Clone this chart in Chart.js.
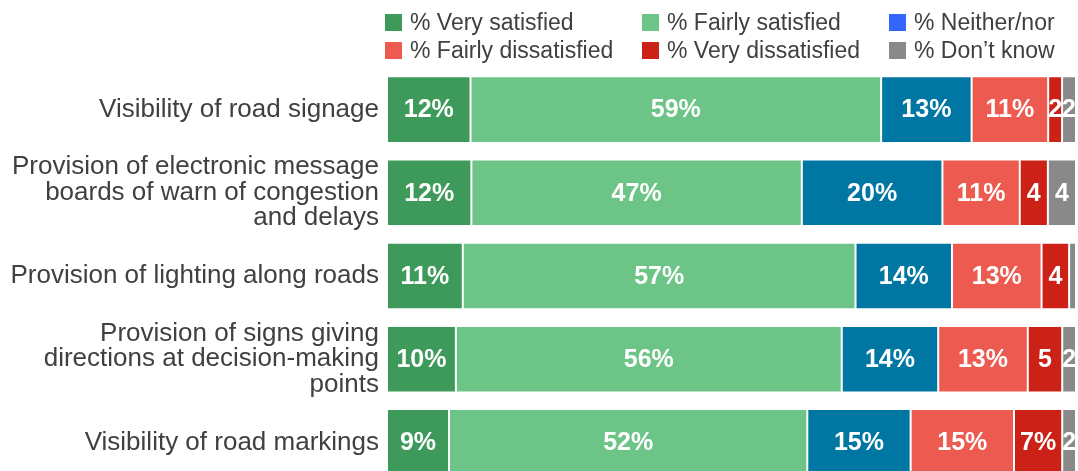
<!DOCTYPE html>
<html lang="en">
<head>
    <meta charset="UTF-8">
    <title>Satisfaction with roads</title>
    <script src="https://cdn.jsdelivr.net/npm/chart.js"></script>
    <style>
        body {
            margin: 0;
            overflow: hidden;
            background: #fff;
            font-family: "Liberation Sans", Arial, sans-serif;
        }
        .wrap {
            position: relative;
            width: 1078px;
            height: 486px;
        }
        .legend {
            position: absolute;
            top: 8px;
            left: 385px;
            display: grid;
            grid-template-columns: 257px 247px 190px;
            font-size: 23px;
            line-height: 28px;
            color: #404040;
        }
        .legend span.box {
            display: inline-block;
            width: 17px;
            height: 17px;
            margin-right: 8px;
            vertical-align: -1px;
        }
    </style>
</head>
<body>
    <div class="wrap">
        <div class="legend" id="legend"></div>
        <canvas id="chart" width="1078" height="486"></canvas>
    </div>

    <script>
        const categories = [
            'Visibility of road signage',
            ['Provision of electronic message', 'boards of warn of congestion', 'and delays'],
            'Provision of lighting along roads',
            ['Provision of signs giving', 'directions at decision-making', 'points'],
            'Visibility of road markings'
        ];
        const seriesNames = ['% Very satisfied', '% Fairly satisfied', '% Neither/nor',
                             '% Fairly dissatisfied', '% Very dissatisfied', '% Don\u2019t know'];
        const verySatisfied = [12, 12, 11, 10, 9];
        const fairlySatisfied = [59, 47, 57, 56, 52];
        const neither = [13, 20, 14, 14, 15];
        const fairlyDissatisfied = [11, 11, 13, 13, 15];
        const veryDissatisfied = [2, 4, 4, 5, 7];
        const dontKnow = [2, 4, 1, 2, 2];

        const barColors = ['#3e9a5a', '#6dc487', '#0077a3', '#ec5a50', '#cb2116', '#898989'];
        const legendColors = ['#3e9a5a', '#6dc487', '#3366ff', '#ec5a50', '#cb2116', '#898989'];

        const raw = [verySatisfied, fairlySatisfied, neither, fairlyDissatisfied, veryDissatisfied, dontKnow];
        const totals = categories.map((c, i) => raw.reduce((s, arr) => s + arr[i], 0));

        // legend
        const legendEl = document.getElementById('legend');
        seriesNames.forEach((name, i) => {
            const d = document.createElement('div');
            d.innerHTML = '<span class="box" style="background:' + legendColors[i] + '"></span>' + name;
            legendEl.appendChild(d);
        });

        // value labels inside bars
        const barLabels = {
            id: 'barLabels',
            afterDatasetsDraw(chart) {
                const ctx = chart.ctx;
                ctx.save();
                ctx.fillStyle = '#fff';
                ctx.font = 'bold 25px "Liberation Sans", Arial, sans-serif';
                ctx.textAlign = 'center';
                ctx.textBaseline = 'middle';
                chart.data.datasets.forEach((ds, di) => {
                    chart.getDatasetMeta(di).data.forEach((bar, i) => {
                        const v = ds.raw[i];
                        if (v < 2) return;
                        const txt = v >= 6 ? v + '%' : String(v);
                        const x = (bar.x + bar.base) / 2;
                        ctx.fillText(txt, x, bar.y + 1);
                    });
                });
                ctx.restore();
            }
        };

        new Chart(document.getElementById('chart'), {
            type: 'bar',
            data: {
                labels: categories,
                datasets: raw.map((arr, di) => ({
                    label: seriesNames[di],
                    raw: arr,
                    data: arr.map((v, i) => v / totals[i] * 100),
                    backgroundColor: barColors[di],
                    borderColor: '#fff',
                    borderWidth: 1,
                    borderSkipped: false,
                    barPercentage: 0.8,
                    categoryPercentage: 1
                }))
            },
            options: {
                indexAxis: 'y',
                responsive: false,
                animation: false,
                layout: { padding: { top: 68, right: 2, bottom: 2, left: 0 } },
                plugins: {
                    legend: { display: false },
                    tooltip: { enabled: false }
                },
                scales: {
                    x: {
                        stacked: true,
                        min: 0,
                        max: 100,
                        display: false
                    },
                    y: {
                        stacked: true,
                        grid: { display: false, drawTicks: false },
                        border: { display: false },
                        ticks: {
                            color: '#404040',
                            padding: 8,
                            font: { family: '"Liberation Sans", Arial, sans-serif', size: 26, lineHeight: 0.98 }
                        },
                        afterFit(scale) {
                            scale.width = 387;
                            scale.paddingTop = 0;
                            scale.paddingBottom = 0;
                        }
                    }
                }
            },
            plugins: [barLabels]
        });
    </script>
</body>
</html>
